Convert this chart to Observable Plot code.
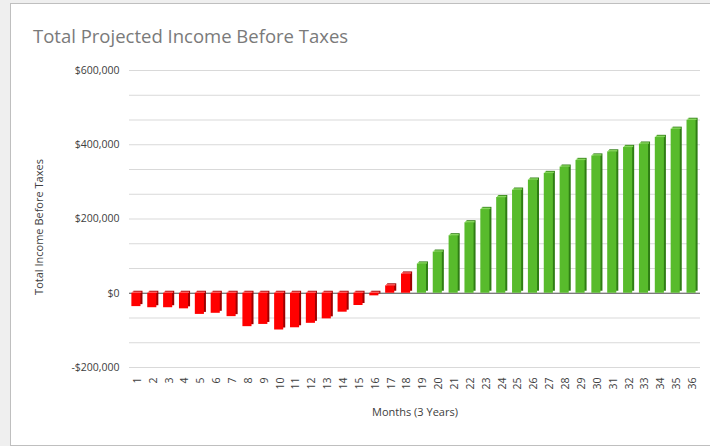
<!DOCTYPE html>
<html>
<head>
<meta charset="utf-8">
<script src="https://cdn.jsdelivr.net/npm/d3@7"></script>
<script src="https://cdn.jsdelivr.net/npm/@observablehq/plot@0.6"></script>
<style>
  html, body { margin: 0; padding: 0; background: #efefef; }
  #wrap { position: relative; width: 710px; height: 446px; overflow: hidden; background: #efefef; }
  #frame { position: absolute; left: 10px; top: 3px; width: 720px; height: 441px; border: 1px solid #bfbfbf; background: #fff; }
  #title { position: absolute; left: 33px; top: 26px; font-family: "Open Sans", sans-serif; font-size: 18.5px; line-height: 20px; color: #7a7a7a; white-space: nowrap; }
  #chart { position: absolute; left: 0; top: 0; }
</style>
</head>
<body>
<div id="wrap">
  <div id="frame"></div>
  <div id="chart"></div>
  <div id="title">Total Projected Income Before Taxes</div>
</div>
<script>
const months = d3.range(1, 37);
const income = [-36000, -39000, -39000, -42000, -57000, -54000, -63000, -90000, -84000, -99000,
  -93000, -81000, -69000, -51000, -33000, -7000, 20000, 52000, 79000, 111000,
  155000, 190000, 226000, 258000, 278000, 305000, 323000, 340000, 358000, 370000,
  381000, 393000, 402000, 420000, 442000, 466000];
// first 18 months (start-up phase) drawn red, the rest green
const redMonths = 18;
const yTicks = [-200000, 0, 200000, 400000, 600000];
const yLabel = "Total Income Before Taxes";
const xLabel = "Months (3 Years)";

const data = months.map((m, i) => ({month: m, value: income[i], early: m <= redMonths}));
const gridVals = d3.range(0, 13).map(i => -200000 + i * 200000 / 3);
const fmt = d => (d < 0 ? "-" : "") + "$" + d3.format(",")(Math.abs(d));

const chart = Plot.plot({
  width: 710,
  height: 446,
  marginLeft: 129,
  marginRight: 10,
  marginTop: 70,
  marginBottom: 79,
  style: {fontFamily: "Open Sans, sans-serif", fontSize: "10.5px", color: "#404040", background: "transparent"},
  x: {type: "band", domain: months, paddingInner: 0.3, paddingOuter: 0.15, label: null},
  y: {domain: [-200000, 600000], label: null},
  color: {type: "identity"},
  marks: [
    Plot.ruleY(gridVals, {stroke: "#d9d9d9", strokeWidth: 1}),
    Plot.ruleY([0], {stroke: "#595959", strokeWidth: 1}),
    Plot.barY(data, {x: "month", y: "value", fill: d => d.early ? "#9e0000" : "#2f7d14", dx: 2, dy: -2, insetRight: 2}),
    Plot.barY(data, {x: "month", y: "value", fill: d => d.early ? "#ff0000" : "#58bb2c", insetRight: 2}),
    Plot.tickY(data, {x: "month", y: d => Math.max(d.value, 0), stroke: d => d.early ? "#ff5a5a" : "#86d65c",
      strokeWidth: 1.5, dx: 1, dy: -1, insetRight: 2}),
    Plot.axisY({ticks: yTicks, tickFormat: fmt, tickSize: 0, tickPadding: 10, label: null}),
    Plot.axisX({tickRotate: -90, tickSize: 0, tickPadding: 10, label: null}),
    Plot.text([yLabel], {frameAnchor: "left", textAnchor: "middle", rotate: -90, dx: -90, dy: 8, fontSize: 11, fill: "#404040"}),
    Plot.text([xLabel], {frameAnchor: "bottom", dy: 48, fontSize: 11, fill: "#404040"})
  ]
});
document.getElementById("chart").appendChild(chart);
</script>
</body>
</html>
